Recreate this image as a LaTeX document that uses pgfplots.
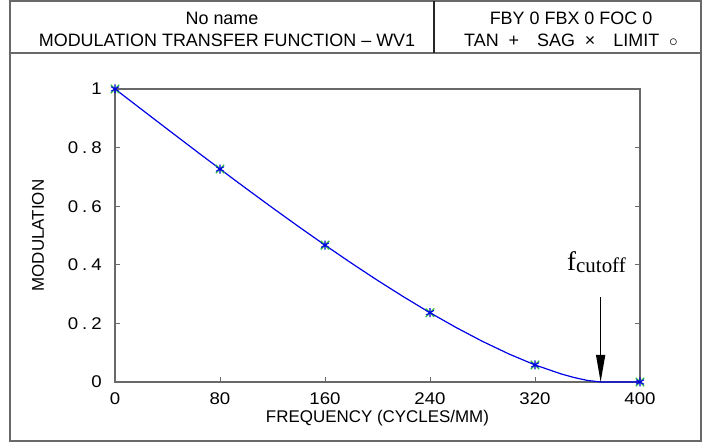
\documentclass[border=0pt]{standalone}
\usepackage{fontspec}
\setmainfont{Liberation Sans}
\newfontfamily\seriffont{Liberation Serif}
\newfontfamily\tickfont[FakeStretch=1.1]{Liberation Sans}
\usepackage{pgfplots}
\pgfplotsset{compat=1.18}
\usetikzlibrary{arrows.meta}
\definecolor{axgray}{RGB}{105,105,105}
\definecolor{mtfblue}{RGB}{0,0,230}
\definecolor{mkgreen}{RGB}{40,190,60}
\newcommand{\dt}{\kern4bp.\kern4bp}
\begin{document}
\begin{tikzpicture}[x=1bp,y=1bp]
\useasboundingbox (-115,-61) rectangle (591,382);
\draw[axgray, line width=1.3bp] (-105,-59) rectangle (586,381);
\draw[axgray, line width=1.1bp] (-105,329) -- (586,329);
\draw[black!85, line width=1.1bp] (319,329) -- (319,381);
\node[font=\fontsize{18}{20}\selectfont] at (107,364) {No name};
\node[font=\fontsize{18}{20}\selectfont] at (112,342) {MODULATION TRANSFER FUNCTION -- WV1};
\node[font=\fontsize{18}{20}\selectfont] at (456,364) {FBY 0 FBX 0 FOC 0};
\node[font=\fontsize{18}{20}\selectfont] at (456,342) {TAN\ \ +\quad SAG\ \ ×\quad LIMIT\ \ $\circ$};
\begin{axis}[
  at={(0,0)}, anchor=south west,
  scale only axis, width=525bp, height=293bp,
  xmin=0, xmax=400, ymin=0, ymax=1,
  clip=false,
  xtick={0,80,160,240,320,400},
  ytick={0,0.2,0.4,0.6,0.8,1},
  yticklabels={0,0\dt2,0\dt4,0\dt6,0\dt8,1},
  xtick pos=bottom, ytick pos=both,
  tick align=inside,
  major tick length=5bp,
  axis line style={axgray, line width=1.3bp},
  tick style={axgray, line width=1bp},
  /pgf/number format/assume math mode=true,
  tick label style={font=\tickfont\fontsize{17}{19}\selectfont, inner sep=0pt},
  xticklabel style={anchor=north, yshift=-10bp},
  yticklabel style={anchor=east, xshift=-13bp},
  xlabel={FREQUENCY (CYCLES/MM)},
  ylabel={MODULATION},
  label style={font=\fontsize{17}{19}\selectfont},
  xlabel style={at={(rel axis cs:0.5,0)}, anchor=center, yshift=-36bp},
  ylabel style={at={(rel axis cs:0,0.5)}, anchor=center, rotate=0, yshift=77bp},
]
\addplot[mtfblue, line width=1.2bp, mark=none] coordinates {
(0,1.0) (10,0.9656) (20,0.9312) (30,0.8969) (40,0.8626) (50,0.8285)
(60,0.7944) (70,0.7606) (80,0.7269) (90,0.6934) (100,0.6601)
(120,0.5944) (140,0.5300) (160,0.4671) (180,0.4060) (200,0.3469)
(220,0.2903) (240,0.2364) (260,0.1857) (280,0.1386) (300,0.0959)
(320,0.0582) (340,0.0274) (350,0.0150) (360,0.0053) (370,0.0)
(380,0.0) (390,0.0) (400,0.0)
};
\addplot[only marks, mark=x, mark size=6bp, mkgreen, mark options={line width=1.3bp}] coordinates {
(0,1.0) (80,0.7269) (160,0.4671) (240,0.2364) (320,0.0582) (400,0.0)
};
\addplot[only marks, mark=asterisk, mark size=4.5bp, mtfblue, mark options={line width=1.1bp}] coordinates {
(0,1.0) (80,0.7269) (160,0.4671) (240,0.2364) (320,0.0582) (400,0.0)
};
\draw[black, line width=1.3bp, -{Triangle[length=27bp,width=9bp]}] (axis cs:370,0.29) -- (axis cs:370,0.0);
\node[anchor=base west, inner sep=0pt, font=\seriffont\fontsize{27}{30}\selectfont] at (axis cs:344.4,0.382) {f\raisebox{-2bp}{\fontsize{21}{24}\selectfont cutoff}};
\end{axis}
\end{tikzpicture}
\end{document}
